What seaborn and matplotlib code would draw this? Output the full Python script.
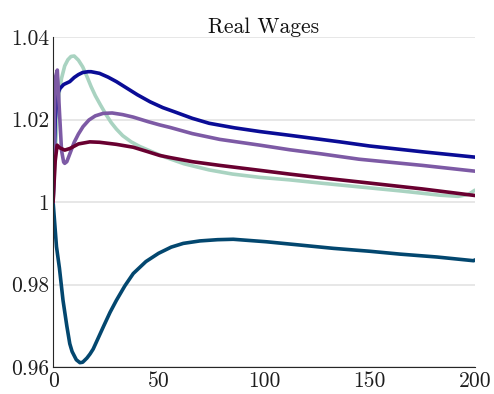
import matplotlib
matplotlib.use("Agg")
import matplotlib.pyplot as plt
import seaborn as sns
import pandas as pd

# values
green_x = [0, 1, 2, 3, 4, 5.5, 7, 8.5, 10, 12, 14, 16, 18, 20, 22.5, 25, 27.5, 30, 33, 37, 41, 46, 52, 62, 74, 85, 98, 112, 127, 145, 165, 183, 192, 197, 200]
green_y = [1.000, 1.012, 1.022, 1.027, 1.030, 1.0330, 1.0345, 1.0353, 1.0354, 1.0344, 1.0328, 1.0305, 1.0280, 1.0258, 1.0235, 1.0213, 1.0193, 1.0177, 1.0161, 1.0146, 1.0135, 1.0124, 1.0111, 1.0093, 1.0078, 1.0068, 1.0060, 1.0054, 1.0046, 1.0037, 1.0027, 1.0017, 1.0014, 1.0019, 1.0029]

teal_x = [0, 1.6, 3, 4.7, 6.5, 7.9, 9, 11, 12.7, 14, 16, 17.5, 19, 21.5, 24, 27, 30, 34, 38, 44, 50, 56, 61.7, 69.6, 78, 85.4, 101, 117, 132.8, 150, 164.5, 182, 199.4, 200]
teal_y = [1.000, 0.9892, 0.9840, 0.9762, 0.9700, 0.9657, 0.9638, 0.9618, 0.9611, 0.9612, 0.9622, 0.9632, 0.9644, 0.9672, 0.9700, 0.9733, 0.9762, 0.9797, 0.9827, 0.9856, 0.9876, 0.9891, 0.9900, 0.9906, 0.9909, 0.9910, 0.9904, 0.9896, 0.9888, 0.9881, 0.9874, 0.9867, 0.9858, 0.9860]

blue_x = [0, 1, 2, 3.2, 5, 7.9, 10, 12, 14, 16.6, 18, 22, 26, 30, 35, 40, 46, 52, 58, 66, 74, 86, 98, 112, 127, 136, 150, 175, 200]
blue_y = [1.000, 1.020, 1.026, 1.0275, 1.0285, 1.0292, 1.0302, 1.0309, 1.0314, 1.0316, 1.0316, 1.0312, 1.0303, 1.0292, 1.0276, 1.0260, 1.0243, 1.0229, 1.0218, 1.0203, 1.0191, 1.0180, 1.0171, 1.0162, 1.0152, 1.0146, 1.0136, 1.0122, 1.0109]

purple_x = [0, 1, 2, 3, 4, 5, 5.5, 6.5, 8, 10, 12, 14.2, 17, 20, 23.7, 28, 33, 38, 45, 50.6, 55.4, 66, 79, 98, 112, 127, 145, 175, 200]
purple_y = [1.000, 1.030, 1.032, 1.022, 1.0125, 1.0097, 1.0094, 1.0098, 1.0118, 1.0145, 1.0165, 1.0183, 1.0199, 1.0209, 1.0215, 1.0216, 1.0212, 1.0206, 1.0195, 1.0187, 1.0181, 1.0166, 1.0152, 1.0138, 1.0127, 1.0117, 1.0104, 1.0089, 1.0075]

red_x = [0, 1, 1.9, 3, 5.5, 8, 12, 17.4, 22, 30, 38, 45, 50.6, 55.4, 66, 79, 98, 112, 127, 145, 175, 200]
red_y = [1.000, 1.010, 1.0138, 1.0132, 1.0126, 1.0130, 1.0141, 1.0146, 1.0145, 1.0140, 1.0133, 1.0122, 1.0113, 1.0108, 1.0098, 1.0089, 1.0077, 1.0068, 1.0059, 1.0049, 1.0032, 1.0016]

series = [
    ("green", green_x, green_y, "#a9d3c1"),
    ("teal", teal_x, teal_y, "#03476f"),
    ("blue", blue_x, blue_y, "#0a0c96"),
    ("purple", purple_x, purple_y, "#7d5aa5"),
    ("red", red_x, red_y, "#690030"),
]

x_ticks = [0, 50, 100, 150, 200]
y_ticks = [0.96, 0.98, 1.00, 1.02, 1.04]
y_labels = ["0.96", "0.98", "1", "1.02", "1.04"]

sns.set_style("white")
plt.rcParams['font.family'] = ['cmr10', 'DejaVu Serif']
plt.rcParams['mathtext.fontset'] = 'cm'
plt.rcParams['axes.formatter.use_mathtext'] = True

fig = plt.figure(figsize=(4.94, 3.94), dpi=100)
ax = fig.add_axes([0.1075, 0.068, 0.854, 0.838])

for name, xs, ys, col in series:
    df = pd.DataFrame({'t': xs, 'v': ys})
    sns.lineplot(data=df, x='t', y='v', color=col, linewidth=2.6, ax=ax,
                 estimator=None, sort=True)

ax.set_xlim(0, 200)
ax.set_ylim(0.96, 1.04)
ax.set_xticks(x_ticks)
ax.set_xticklabels([str(t) for t in x_ticks])
ax.set_yticks(y_ticks)
ax.set_yticklabels(y_labels)
ax.yaxis.grid(True, color='#e3e3e3', linewidth=1.2)
ax.set_axisbelow(True)
ax.tick_params(direction='in', length=4, width=0.8, colors='#262626',
               labelsize=15.5, labelcolor='#1e1e1e', pad=3)
for s in ['top', 'right']:
    ax.spines[s].set_visible(False)
for s in ['left', 'bottom']:
    ax.spines[s].set_color('#262626')
    ax.spines[s].set_linewidth(0.8)
ax.set_xlabel('')
ax.set_ylabel('')
ax.set_title('Real Wages', fontsize=15.5, color='#111111', pad=3)

fig.savefig('out.png', dpi=100)
